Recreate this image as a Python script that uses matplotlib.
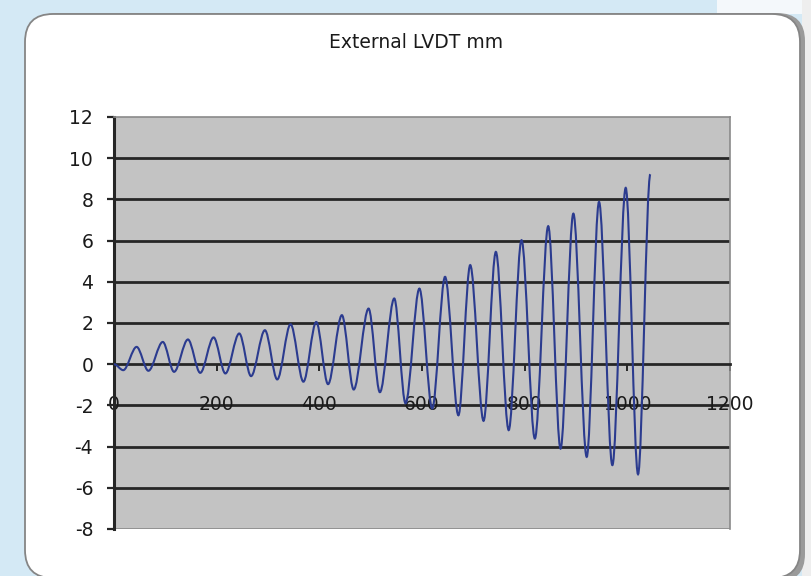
import matplotlib.pyplot as plt
import numpy as np
from matplotlib.path import Path
from matplotlib.patches import PathPatch, FancyBboxPatch, Rectangle

# Peak / trough readings of the external LVDT (time, displacement mm)
time_s = [0, 18, 44, 67, 95, 117, 144, 168, 194, 217, 244, 267, 294, 318, 344,
          369, 394, 417, 444, 467, 496, 518, 546, 568, 595, 620, 645, 671, 694,
          720, 744, 769, 794, 820, 846, 870, 895, 921, 945, 971, 997, 1021, 1045]
disp_mm = [0, -0.29, 0.84, -0.32, 1.08, -0.37, 1.2, -0.42, 1.3, -0.45, 1.49,
           -0.58, 1.65, -0.74, 1.94, -0.85, 2.05, -0.97, 2.38, -1.23, 2.70,
           -1.36, 3.19, -1.9, 3.67, -2.15, 4.24, -2.48, 4.81, -2.75, 5.45,
           -3.2, 6.02, -3.61, 6.70, -4.1, 7.31, -4.5, 7.88, -4.9, 8.56, -5.34, 9.22]

x_ticks = [0, 200, 400, 600, 800, 1000, 1200]
y_ticks = [-8, -6, -4, -2, 0, 2, 4, 6, 8, 10, 12]

plt.rcParams['font.family'] = ['DejaVu Sans']
plt.rcParams['axes.unicode_minus'] = False

fig = plt.figure(figsize=(8.11, 5.76), dpi=100, facecolor='#d4e9f5')

# white corner strip top right and the frame of the chart
fig.add_artist(Rectangle((7.17, 5.62), 1.0, 0.2, transform=fig.dpi_scale_trans,
                         facecolor='#f4f8fb', edgecolor='none', zorder=-3))
fig.add_artist(Rectangle((8.02, -0.1), 0.2, 6.0, transform=fig.dpi_scale_trans,
                         facecolor='#eeeeee', edgecolor='none', zorder=-3))
fig.add_artist(FancyBboxPatch((0.30, -0.06), 7.75, 5.69,
                              boxstyle='round,pad=0,rounding_size=0.28',
                              transform=fig.dpi_scale_trans,
                              facecolor='#9a9a9a', edgecolor='none', zorder=-2))
fig.add_artist(FancyBboxPatch((0.25, -0.02), 7.75, 5.64,
                              boxstyle='round,pad=0,rounding_size=0.28',
                              transform=fig.dpi_scale_trans,
                              facecolor='white', edgecolor='#858585', linewidth=1.3,
                              zorder=-1))

ax = fig.add_axes([0.1406, 0.0816, 0.7594, 0.7153])
ax.set_facecolor('#c3c3c3')
ax.set_xlim(0, 1200)
ax.set_ylim(-8, 12)

for y in y_ticks[1:-1]:
    if y != 0:
        ax.axhline(y, color='#262626', linewidth=2.0, zorder=1)
ax.axhline(-8, color='#8a8a8a', linewidth=1.2, zorder=1)

for side in ['top', 'right']:
    ax.spines[side].set_color('#8a8a8a')
    ax.spines[side].set_linewidth(1.2)
ax.spines['left'].set_color('#262626')
ax.spines['left'].set_linewidth(2.2)
ax.spines['bottom'].set_position(('data', 0))
ax.spines['bottom'].set_color('#262626')
ax.spines['bottom'].set_linewidth(2.0)

# smooth trace: horizontal tangents at each turning point
verts = [(time_s[0], disp_mm[0])]
codes = [Path.MOVETO]
for i in range(len(time_s) - 1):
    x0, y0 = time_s[i], disp_mm[i]
    x1, y1 = time_s[i + 1], disp_mm[i + 1]
    dx = x1 - x0
    verts += [(x0 + dx / 3, y0), (x1 - dx / 3, y1), (x1, y1)]
    codes += [Path.CURVE4] * 3
trace = PathPatch(Path(verts, codes), facecolor='none', edgecolor='#2b3b8f',
                  linewidth=1.5, zorder=3)
ax.add_patch(trace)

ax.set_xticks(x_ticks)
ax.set_yticks(y_ticks)
ax.tick_params(axis='y', direction='out', length=5, width=1.6, color='#262626',
               pad=10, labelsize=13.5, labelcolor='#1a1a1a')
ax.tick_params(axis='x', direction='out', length=5, width=1.4, color='#262626',
               pad=17, labelsize=13.5, labelcolor='#1a1a1a')

fig.text(0.513, 0.927, 'External LVDT mm', ha='center', va='center',
         fontsize=13.5, color='#1a1a1a')

plt.savefig('out.png', dpi=100, facecolor=fig.get_facecolor())
